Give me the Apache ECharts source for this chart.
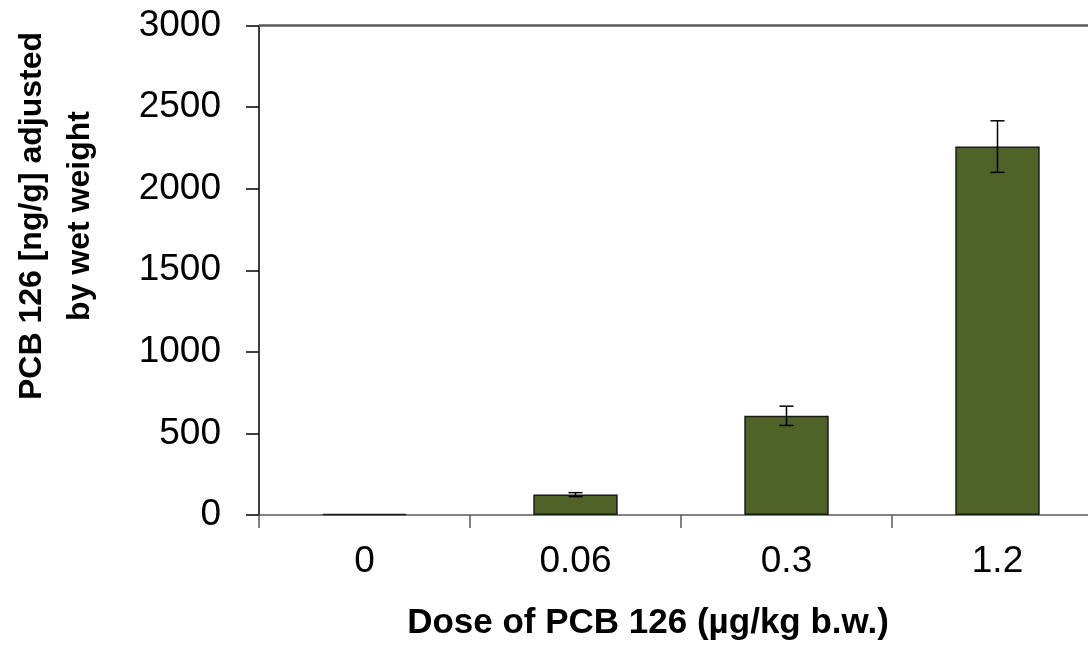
<!DOCTYPE html>
<html>
<head>
<meta charset="utf-8">
<script src="https://cdn.jsdelivr.net/npm/echarts@6/dist/echarts.min.js"></script>
<style>html,body{margin:0;padding:0;background:#fff;overflow:hidden;width:1088px;height:647px}#c{width:1103px;height:647px}</style>
</head>
<body>
<div id="c"></div>
<script>
const categories = ['0', '0.06', '0.3', '1.2'];
const values = [7, 125, 608, 2258];
const errors = [0, 12, 59, 158];
const yTicks = [0, 500, 1000, 1500, 2000, 2500, 3000];
const xTitle = 'Dose of PCB 126 (µg/kg b.w.)';
const yTitle = 'PCB 126 [ng/g] adjusted\nby wet weight';

const chart = echarts.init(document.getElementById('c'), null, {renderer: 'canvas'});
const font = 'Liberation Sans, Arial, sans-serif';
chart.setOption({
  animation: false,
  grid: {left: 259, top: 25.5, right: 0, bottom: 132, containLabel: false},
  xAxis: {
    type: 'category', data: categories,
    axisLine: {lineStyle: {color: '#595959', width: 1.5}},
    axisTick: {show: true, length: 13, lineStyle: {color: '#595959', width: 1.5}},
    axisLabel: {color: '#000', fontSize: 37, fontFamily: font, margin: 28}
  },
  yAxis: {
    type: 'value', min: yTicks[0], max: yTicks[yTicks.length - 1], interval: 500,
    axisLine: {show: true, lineStyle: {color: '#000', width: 1.5}},
    axisTick: {show: true, length: 13, lineStyle: {color: '#000', width: 1.5}},
    axisLabel: {color: '#000', fontSize: 37, fontFamily: font, margin: 38, formatter: v => String(v)},
    splitLine: {show: false}
  },
  graphic: [
    {type: 'text', x: 648, y: 623, style: {text: xTitle, font: 'bold 35px ' + font, fill: '#000', textAlign: 'center', textVerticalAlign: 'middle'}},
    {type: 'text', x: 56, y: 216, rotation: Math.PI / 2, style: {text: yTitle, font: 'bold 32px ' + font, lineHeight: 48, fill: '#000', textAlign: 'center', textVerticalAlign: 'middle'}}
  ],
  series: [
    {
      type: 'bar', data: values, barWidth: '40%',
      itemStyle: {color: '#4F6228', borderColor: '#1a1a1a', borderWidth: 1.5},
      markLine: {
        silent: true, symbol: 'none', label: {show: false},
        lineStyle: {color: '#595959', width: 2.5, type: 'solid'},
        data: [{yAxis: yTicks[yTicks.length - 1]}]
      }
    },
    {
      type: 'custom',
      data: values.map((v, i) => [i, v, errors[i]]),
      renderItem: function (params, api) {
        const i = api.value(0), v = api.value(1), e = api.value(2);
        if (!e) return null;
        const hi = api.coord([i, v + e]);
        const lo = api.coord([i, v - e]);
        const hw = 7;
        const st = {stroke: '#000', lineWidth: 1.5};
        return {type: 'group', children: [
          {type: 'line', shape: {x1: hi[0], y1: hi[1], x2: lo[0], y2: lo[1]}, style: st},
          {type: 'line', shape: {x1: hi[0] - hw, y1: hi[1], x2: hi[0] + hw, y2: hi[1]}, style: st},
          {type: 'line', shape: {x1: lo[0] - hw, y1: lo[1], x2: lo[0] + hw, y2: lo[1]}, style: st}
        ]};
      },
      z: 10
    }
  ]
});
</script>
</body>
</html>
